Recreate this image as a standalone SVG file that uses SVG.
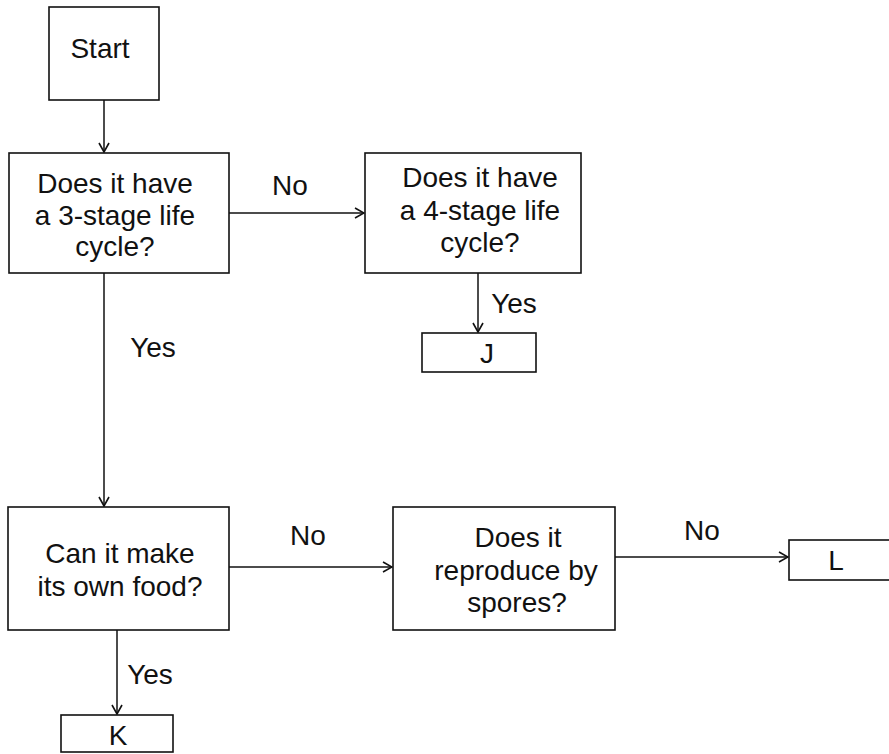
<svg xmlns="http://www.w3.org/2000/svg" width="889" height="754" viewBox="0 0 889 754">
<style>
.box{fill:#fff;stroke:#111;stroke-width:1.6}
.t{font-family:"Liberation Sans",Arial,sans-serif;font-size:28px;fill:#111;text-anchor:middle}
.c{fill:none;stroke:#111;stroke-width:1.5}
</style>
<defs>
<marker id="ah" viewBox="0 0 12 12" refX="11" refY="6" markerWidth="12" markerHeight="12" markerUnits="userSpaceOnUse" orient="auto">
<polyline points="2,1 11,6 2,11" fill="none" stroke="#111" stroke-width="1.6"/>
</marker>
</defs>
<rect width="889" height="754" fill="#fff"/>
<g id="connectors">
<line class="c" x1="104" y1="100" x2="104" y2="152" marker-end="url(#ah)"/>
<line class="c" x1="229" y1="213" x2="364" y2="213" marker-end="url(#ah)"/>
<line class="c" x1="478" y1="273" x2="478" y2="332" marker-end="url(#ah)"/>
<line class="c" x1="104" y1="273" x2="104" y2="506" marker-end="url(#ah)"/>
<line class="c" x1="229" y1="567" x2="392" y2="567" marker-end="url(#ah)"/>
<line class="c" x1="117" y1="630" x2="117" y2="714" marker-end="url(#ah)"/>
<line class="c" x1="615" y1="557" x2="788" y2="557" marker-end="url(#ah)"/>
<text class="t" x="290" y="195">No</text>
<text class="t" x="514" y="313">Yes</text>
<text class="t" x="153" y="357">Yes</text>
<text class="t" x="308" y="545">No</text>
<text class="t" x="150" y="684">Yes</text>
<text class="t" x="702" y="540">No</text>
</g>
<g id="start">
<rect class="box" x="49" y="7" width="110" height="93"/>
<text class="t" x="100" y="58">Start</text>
</g>
<g id="q1">
<rect class="box" x="9" y="153" width="220" height="120"/>
<text class="t" x="115" y="193">Does it have</text>
<text class="t" x="115" y="225">a 3-stage life</text>
<text class="t" x="115" y="256">cycle?</text>
</g>
<g id="q2">
<rect class="box" x="365" y="153" width="216" height="120"/>
<text class="t" x="480" y="187">Does it have</text>
<text class="t" x="480" y="220">a 4-stage life</text>
<text class="t" x="480" y="252">cycle?</text>
</g>
<g id="J">
<rect class="box" x="422" y="333" width="114" height="39"/>
<text class="t" x="487" y="363">J</text>
</g>
<g id="q3">
<rect class="box" x="8" y="507" width="221" height="123"/>
<text class="t" x="120" y="563">Can it make</text>
<text class="t" x="120" y="596">its own food?</text>
</g>
<g id="q4">
<rect class="box" x="393" y="507" width="222" height="123"/>
<text class="t" x="518" y="547">Does it</text>
<text class="t" x="516" y="580">reproduce by</text>
<text class="t" x="517" y="612">spores?</text>
</g>
<g id="K">
<rect class="box" x="61" y="715" width="112" height="37"/>
<text class="t" x="118" y="745">K</text>
</g>
<g id="L">
<rect class="box" x="789" y="540" width="110" height="40"/>
<text class="t" x="836" y="570">L</text>
</g>
</svg>
